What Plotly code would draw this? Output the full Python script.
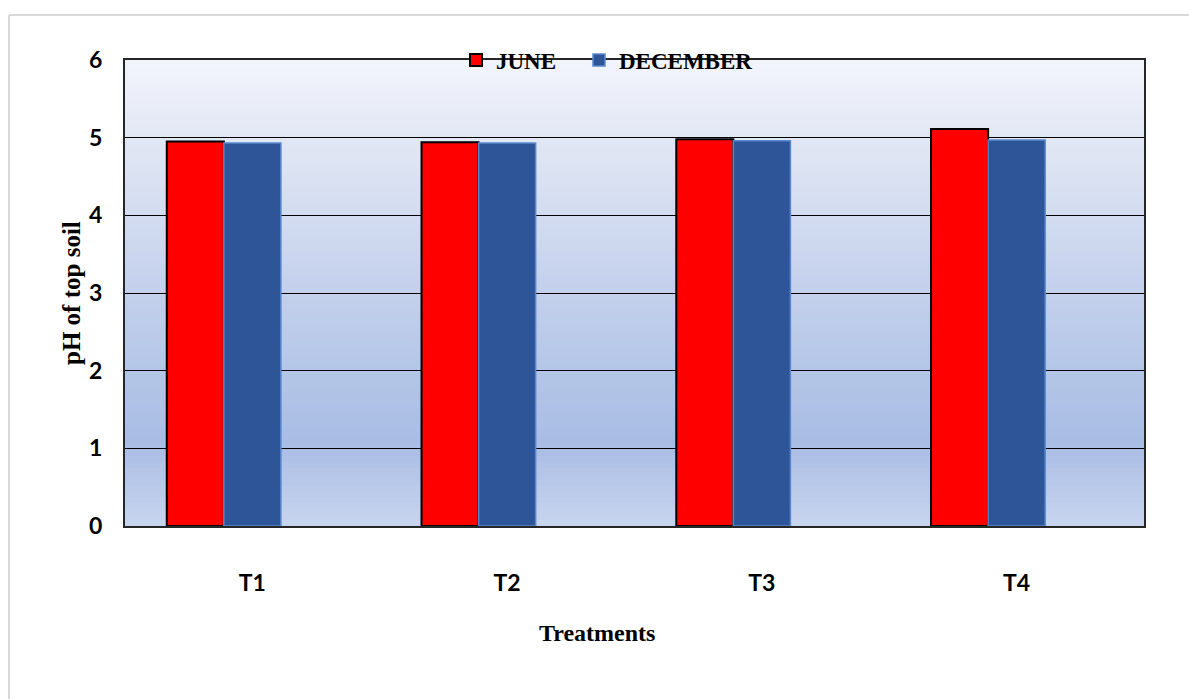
import plotly.graph_objects as go

# Soil pH of top soil per treatment, sampled in June and December
treatments = ["T1", "T2", "T3", "T4"]
ph_june = [4.95, 4.94, 4.98, 5.11]
ph_december = [4.93, 4.93, 4.96, 4.97]
y_ticks = [0, 1, 2, 3, 4, 5, 6]

W, H = 1189, 699
M_L, M_R, M_T, M_B = 125, 45, 60, 173
PW = W - M_L - M_R
PH = H - M_T - M_B

SERIF = "Liberation Serif, Times New Roman, serif"
SANS = "Lato, Open Sans, Liberation Sans, sans-serif"

fig = go.Figure()
fig.add_trace(go.Bar(
    x=treatments, y=ph_june, name="JUNE", legend="legend",
    width=0.224, offset=-0.336,
    marker=dict(color="#FF0000", line=dict(color="#000000", width=2)),
))
fig.add_trace(go.Bar(
    x=treatments, y=ph_december, name="DECEMBER", legend="legend2",
    width=0.224, offset=-0.112,
    marker=dict(color="#2E5597", line=dict(color="#5A88CF", width=1.5)),
))

# vertical gradient fill of the plot area, built from thin strips
stops = [
    (0.00, (200, 213, 238)),
    (0.18, (169, 188, 228)),
    (0.33, (180, 198, 231)),
    (0.50, (195, 208, 236)),
    (0.67, (211, 220, 240)),
    (0.83, (226, 231, 244)),
    (1.00, (243, 245, 252)),
]


def colour_at(t):
    for (t0, c0), (t1, c1) in zip(stops[:-1], stops[1:]):
        if t0 <= t <= t1:
            f = (t - t0) / (t1 - t0)
            return "rgb(%d,%d,%d)" % tuple(round(a + (b - a) * f) for a, b in zip(c0, c1))
    return "rgb(%d,%d,%d)" % stops[-1][1]


shapes = []
n_strips = 80
for i in range(n_strips):
    y0 = i / n_strips
    y1 = (i + 1) / n_strips + 0.002
    shapes.append(dict(
        type="rect", xref="x domain", yref="y domain",
        x0=0, x1=1, y0=y0, y1=min(y1, 1),
        fillcolor=colour_at((i + 0.5) / n_strips),
        line=dict(width=0), layer="below",
    ))

# light frame around the chart area
fx0 = (9 - M_L) / PW
fy0 = (M_T + PH - 15) / PH
shapes.append(dict(type="line", xref="paper", yref="paper",
                   x0=fx0, x1=(W - M_L) / PW, y0=fy0, y1=fy0,
                   line=dict(color="#D9D9D9", width=2)))
shapes.append(dict(type="line", xref="paper", yref="paper",
                   x0=fx0, x1=fx0, y0=fy0, y1=-(M_B) / PH,
                   line=dict(color="#D9D9D9", width=2)))

legend_style = dict(
    orientation="h", xanchor="left", y=1.0, yanchor="middle",
    bgcolor="rgba(0,0,0,0)",
    font=dict(family=SERIF, size=23, color="black", weight="bold"),
    itemclick=False, itemdoubleclick=False,
)

fig.update_layout(
    width=W, height=H,
    margin=dict(l=M_L, r=M_R, t=M_T, b=M_B),
    paper_bgcolor="white",
    plot_bgcolor="rgba(0,0,0,0)",
    barmode="overlay",
    shapes=shapes,
    showlegend=True,
    legend=dict(x=(456 - M_L) / PW, **legend_style),
    legend2=dict(x=(579 - M_L) / PW, **legend_style),
    xaxis=dict(
        type="category", range=[-0.5, 3.5],
        showline=True, linecolor="#262626", linewidth=2, mirror=True,
        ticks="", ticklabelstandoff=35,
        tickfont=dict(family=SANS, size=23, color="black", weight="bold"),
        showgrid=False,
    ),
    yaxis=dict(
        range=[0, 6], tickvals=y_ticks,
        showline=True, linecolor="#262626", linewidth=2, mirror=True,
        ticks="", ticklabelstandoff=16,
        tickfont=dict(family=SANS, size=23, color="black", weight="bold"),
        showgrid=True, gridcolor="#000000", gridwidth=1,
        zeroline=False,
    ),
    annotations=[
        dict(text="Treatments", xref="paper", yref="paper",
             x=(597 - M_L) / PW, y=(M_T + PH - 633) / PH,
             xanchor="center", yanchor="middle", showarrow=False,
             font=dict(family=SERIF, size=24, color="black", weight="bold")),
        dict(text="pH of top soil", xref="paper", yref="paper",
             x=(71 - M_L) / PW, y=(M_T + PH - 293) / PH,
             xanchor="center", yanchor="middle", showarrow=False, textangle=-90,
             font=dict(family=SERIF, size=25, color="black", weight="bold")),
    ],
)

fig.write_html("out.html")
